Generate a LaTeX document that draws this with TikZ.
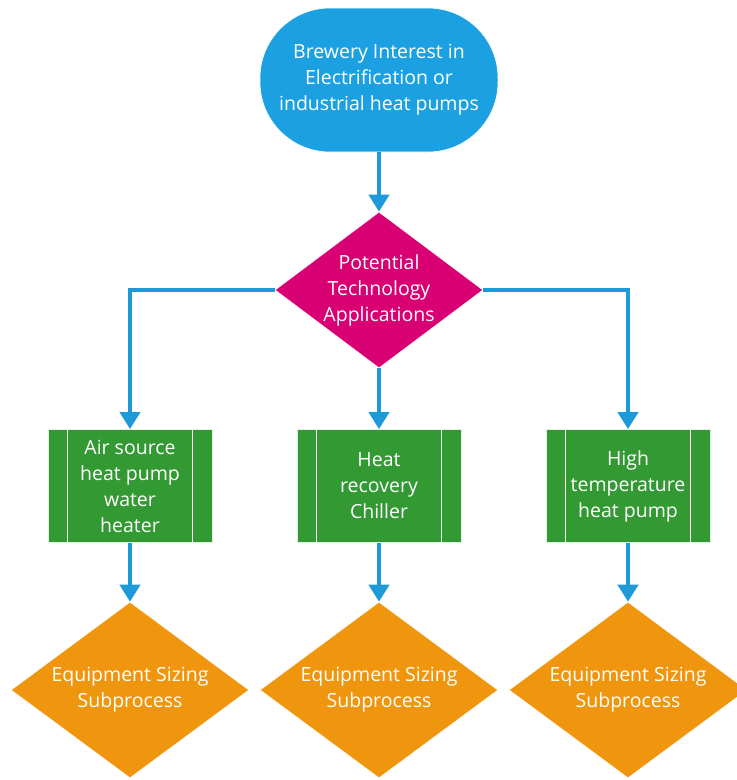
\documentclass[tikz,border=0pt]{standalone}
\usepackage{fontspec}
\setmainfont{Open Sans}
\usetikzlibrary{shapes.geometric,arrows.meta}
\definecolor{termblue}{HTML}{1BA1E2}
\definecolor{arrowblue}{HTML}{1E9AD8}
\definecolor{magentad}{HTML}{D80073}
\definecolor{greenbox}{HTML}{339933}
\definecolor{orangedec}{HTML}{F0960E}
\tikzset{
  txt/.style={text=white, font=\fontsize{19.5}{26}\selectfont, align=center, inner sep=0pt},
  terminal/.style={fill=termblue, draw=white, line width=0.6pt, rounded corners=70pt, minimum width=238pt, minimum height=144pt, inner sep=0pt},
  decision/.style={diamond, fill=#1, draw=white, line width=0.6pt, inner sep=0pt, aspect=1.35},
  process/.style={fill=greenbox, draw=white!85!greenbox, line width=0.8pt, minimum width=164pt, minimum height=113pt, inner sep=0pt},
  flow/.style={draw=arrowblue, line width=4pt, -{Triangle[width=20pt,length=17pt]}}
}
\begin{document}
\begin{tikzpicture}[x=1pt,y=1pt]
\useasboundingbox (0,0) rectangle (737,-780);
% terminal
\node[terminal] (start) at (379,-80) {};
\node[txt] (starttxt) at (start.center) {Brewery Interest in\\Electrification or\\industrial heat pumps};
% magenta decision
\node[decision=magentad, minimum width=208pt, minimum height=156pt] (tech) at (379,-290) {};
\node[txt] (techtxt) at (tech.center) {Potential\\Technology\\Applications};
% processes
\foreach \n/\x/\t in {pa/130/{Air source\\heat pump\\water\\heater}, pb/379/{Heat\\recovery\\Chiller}, pc/628/{High\\temperature\\heat pump}}{
  \node[process] (\n) at (\x,-486) {};
  \draw[white, line width=1.3pt] ([xshift=20pt]\n.north west) -- ([xshift=20pt]\n.south west);
  \draw[white, line width=1.3pt] ([xshift=-20pt]\n.north east) -- ([xshift=-20pt]\n.south east);
  \node[txt] (\n txt) at (\n.center) {\t};
}
% orange decisions
\foreach \n/\x in {da/130, db/379, dc/628}{
  \node[decision=orangedec, minimum width=238pt, minimum height=176pt] (\n) at (\x,-690) {};
  \node[txt] (\n txt) at (\n.center) {Equipment Sizing\\Subprocess};
}
% connectors
\draw[flow] (start.south) -- (tech.north);
\draw[flow] (tech.west) -| (pa.north);
\draw[flow] (tech.south) -- (pb.north);
\draw[flow] (tech.east) -| (pc.north);
\draw[flow] (pa.south) -- (da.north);
\draw[flow] (pb.south) -- (db.north);
\draw[flow] (pc.south) -- (dc.north);
\end{tikzpicture}
\end{document}
